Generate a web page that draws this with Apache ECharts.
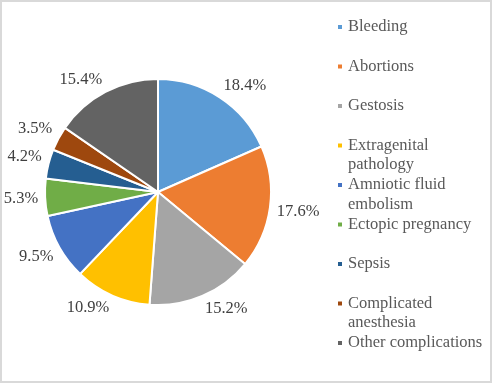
<!DOCTYPE html>
<html><head><meta charset="utf-8">
<script src="https://cdn.jsdelivr.net/npm/echarts@6/dist/echarts.min.js"></script>
<style>html,body{margin:0;padding:0;background:#fff}#c{width:493px;height:384px}</style>
</head><body><div id="c"></div>
<script>
const categories = ['Bleeding','Abortions','Gestosis','Extragenital pathology','Amniotic fluid embolism','Ectopic pregnancy','Sepsis','Complicated anesthesia','Other complications'];
const shares = [18.4, 17.6, 15.2, 10.9, 9.5, 5.3, 4.2, 3.5, 15.4];
const colors = ['#5B9BD5','#ED7D31','#A5A5A5','#FFC000','#4472C4','#70AD47','#255E91','#9E480E','#636363'];

const FONT = '"Liberation Serif","Times New Roman",serif';
const FS = 16.5, LH = 19.5;
const CX = 158, CY = 192, R = 113, LABEL_D = 120;
const LEG_X = 336, LEG_Y0 = 27, LEG_STEP = 39.5, LEG_TEXT_W = 142;

const ctx = document.createElement('canvas').getContext('2d');
ctx.font = FS + 'px ' + FONT;
function wrap(t) {
  const words = t.split(' '); const lines = []; let cur = '';
  for (const w of words) {
    const test = cur ? cur + ' ' + w : w;
    if (cur && ctx.measureText(test).width > LEG_TEXT_W) { lines.push(cur); cur = w; } else cur = test;
  }
  lines.push(cur); return lines;
}

const total = shares.reduce((a, b) => a + b, 0);
const midAngles = []; { let c = 0; shares.forEach(v => { midAngles.push((c + v / 2) / total * Math.PI * 2); c += v; }); }
const clamp = (v) => Math.max(-1, Math.min(1, v));

const legends = categories.map((name, i) => {
  const lines = wrap(name);
  const k = lines.length;
  const text = Array(k - 1).fill(' ').concat(lines).join('\n');
  const nTot = 2 * k - 1;
  return {
    show: true, orient: 'vertical', left: LEG_X, top: LEG_Y0 + i * LEG_STEP - nTot * LH / 2,
    padding: 0, itemWidth: 6, itemHeight: 6, itemGap: 0, icon: 'rect', selectedMode: false,
    data: [name], formatter: () => text,
    textStyle: { fontFamily: FONT, fontSize: FS, color: '#595959', lineHeight: LH }
  };
});

const chart = echarts.init(document.getElementById('c'), null, { renderer: 'canvas' });
chart.setOption({
  animation: false,
  color: colors,
  graphic: [{ type: 'rect', silent: true, shape: { x: 1, y: 1, width: 490, height: 381 }, style: { fill: 'none', stroke: '#d9d9d9', lineWidth: 2 } }],
  legend: legends,
  series: [{
    type: 'pie', center: [CX, CY], radius: R, startAngle: 90, clockwise: true,
    avoidLabelOverlap: false,
    itemStyle: { borderColor: '#ffffff', borderWidth: 2 },
    emphasis: { disabled: true },
    label: { show: true, position: 'outside', formatter: p => p.value.toFixed(1) + '%', fontFamily: FONT, fontSize: FS, color: '#404040' },
    labelLine: { show: false },
    labelLayout: function (p) {
      const a = midAngles[p.dataIndex];
      const ux = Math.sin(a), uy = -Math.cos(a);
      const W = p.labelRect.width, H = FS * 0.75;
      return {
        x: CX + ux * LABEL_D + clamp(ux / 0.3) * W / 2,
        y: CY + uy * LABEL_D + clamp(uy / 0.3) * H / 2,
        align: 'center', verticalAlign: 'middle'
      };
    },
    data: shares.map((v, i) => ({ name: categories[i], value: v }))
  }]
});
</script></body></html>
